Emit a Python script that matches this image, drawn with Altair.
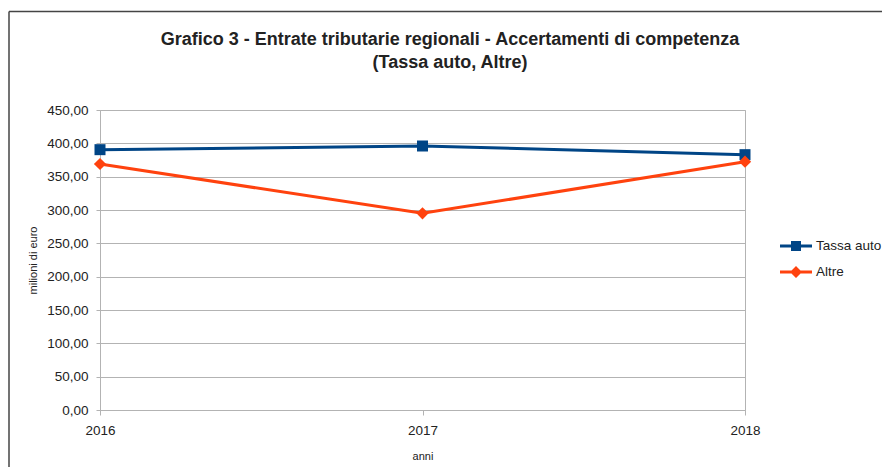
import altair as alt
import pandas as pd

years = ["2016", "2017", "2018"]
tassa_auto = [390.5, 396.0, 383.0]
altre = [369.0, 295.0, 372.5]
series_names = ["Tassa auto", "Altre"]
series_colors = ["#004586", "#ff420e"]
y_ticks = [0, 50, 100, 150, 200, 250, 300, 350, 400, 450]
title_line1 = "Grafico 3 - Entrate tributarie regionali - Accertamenti di competenza"
title_line2 = "(Tassa auto, Altre)"

rows = []
for yr, v in zip(years, tassa_auto):
    rows.append({"anno": yr, "serie": "Tassa auto", "valore": v})
for yr, v in zip(years, altre):
    rows.append({"anno": yr, "serie": "Altre", "valore": v})
df = pd.DataFrame(rows)

FONT = "Liberation Sans"
GRID = "#b3b3b3"
TXT = "#222222"

color_scale = alt.Scale(domain=series_names, range=series_colors)
x_enc = alt.X(
    "anno:O",
    sort=years,
    scale=alt.Scale(type="point", padding=0),
    axis=alt.Axis(title="anni", labelAngle=0, grid=False, tickSize=5,
                  labelPadding=8, titlePadding=14,
                  labelFont=FONT, labelFontSize=13.5, labelColor=TXT,
                  titleFont=FONT, titleFontSize=11, titleFontWeight="normal", titleColor=TXT,
                  domainColor=GRID, tickColor=GRID),
)
y_enc = alt.Y(
    "valore:Q",
    scale=alt.Scale(domain=[0, 450], nice=False),
    axis=alt.Axis(values=y_ticks, title="milioni di euro", tickSize=4,
                  labelPadding=8, titlePadding=8,
                  labelExpr="replace(format(datum.value, '.2f'), '.', ',')",
                  labelFont=FONT, labelFontSize=13.5, labelColor=TXT,
                  titleFont=FONT, titleFontSize=11, titleFontWeight="normal", titleColor=TXT,
                  domainColor=GRID, tickColor=GRID, gridColor=GRID),
)

base = alt.Chart(df)

lines = base.mark_line(strokeWidth=3).encode(
    x=x_enc, y=y_enc,
    color=alt.Color("serie:N", scale=color_scale, legend=None),
)

pts_sq = base.transform_filter(alt.datum.serie == "Tassa auto").mark_point(
    shape="square", filled=True, size=121, opacity=1
).encode(x=x_enc, y=y_enc, color=alt.Color("serie:N", scale=color_scale, legend=None))

pts_di = base.transform_filter(alt.datum.serie == "Altre").mark_point(
    shape="diamond", filled=True, size=150, opacity=1
).encode(x=x_enc, y=y_enc, color=alt.Color("serie:N", scale=color_scale, legend=None))

path_sq = "M-1.6,-0.15H1.6V0.15H-1.6Z M-0.5,-0.5H0.5V0.5H-0.5Z"
path_di = "M-1.6,-0.15H1.6V0.15H-1.6Z M0,-0.6L0.6,0L0,0.6L-0.6,0Z"

legend_params = dict(
    orient="none", legendX=686, legendY=126, title=None,
    symbolSize=400, symbolStrokeWidth=0, symbolOpacity=1,
    labelFontSize=13.5, labelFont=FONT, labelColor=TXT,
    labelOffset=10, rowPadding=9, padding=0,
)

legend_layer = base.mark_point(filled=True, opacity=0).encode(
    x=x_enc, y=y_enc,
    fill=alt.Fill("serie:N", scale=alt.Scale(domain=series_names, range=series_colors),
                  legend=alt.Legend(**legend_params)),
    shape=alt.Shape("serie:N", scale=alt.Scale(domain=series_names, range=[path_sq, path_di]),
                    legend=alt.Legend(**legend_params)),
)

frame_df = pd.DataFrame({"k": [0]})
frame_top = alt.Chart(frame_df).mark_rule(color="#444444", strokeWidth=1.5).encode(
    x=alt.value(-91), x2=alt.value(782), y=alt.value(-98.5)
)
frame_left = alt.Chart(frame_df).mark_rule(color="#444444", strokeWidth=1.5).encode(
    x=alt.value(-91), y=alt.value(-98.5), y2=alt.value(360)
)

title1 = alt.Chart(pd.DataFrame({"t": [title_line1]})).mark_text(
    font=FONT, fontSize=18, fontWeight="bold", color=TXT, align="center", baseline="middle"
).encode(text="t:N", x=alt.value(350), y=alt.value(-70))
title2 = alt.Chart(pd.DataFrame({"t": [title_line2]})).mark_text(
    font=FONT, fontSize=18, fontWeight="bold", color=TXT, align="center", baseline="middle"
).encode(text="t:N", x=alt.value(350), y=alt.value(-47))

chart = alt.layer(lines, pts_sq, pts_di, legend_layer, frame_top, frame_left, title1, title2).properties(
    width=645,
    height=300,
    autosize=alt.AutoSizeParams(type="none"),
    padding={"left": 92, "top": 102, "right": 137, "bottom": 57},
    background="white",
).resolve_scale(
    fill="independent", shape="independent"
).resolve_legend(
    fill="independent", shape="independent"
).configure_view(stroke=GRID)

chart.save("out.html", embed_options={"renderer": "svg", "actions": False})
